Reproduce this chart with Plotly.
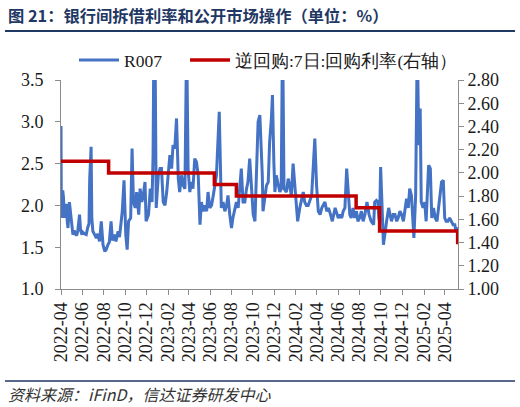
import plotly.graph_objects as go

# R007 (left axis)
r007_dates = [
    "2022-04-01", "2022-04-02", "2022-04-06", "2022-04-08", "2022-04-11", "2022-04-14", "2022-04-16",
    "2022-04-19", "2022-04-21", "2022-04-25", "2022-04-28", "2022-05-01", "2022-05-05", "2022-05-09",
    "2022-05-12", "2022-05-16", "2022-05-19", "2022-05-24", "2022-05-27", "2022-05-31", "2022-06-02",
    "2022-06-07", "2022-06-12", "2022-06-16", "2022-06-20", "2022-06-22", "2022-06-26", "2022-06-28",
    "2022-07-01", "2022-07-06", "2022-07-11", "2022-07-15", "2022-07-20", "2022-07-25", "2022-07-28",
    "2022-07-30", "2022-08-04", "2022-08-08", "2022-08-13", "2022-08-17", "2022-08-22", "2022-08-26",
    "2022-09-01", "2022-09-05", "2022-09-11", "2022-09-15", "2022-09-20", "2022-09-23", "2022-09-28",
    "2022-10-03", "2022-10-07", "2022-10-11", "2022-10-17", "2022-10-21", "2022-10-25", "2022-10-30",
    "2022-11-03", "2022-11-09", "2022-11-13", "2022-11-18", "2022-11-22", "2022-11-27", "2022-11-30",
    "2022-12-07", "2022-12-12", "2022-12-17", "2022-12-20", "2022-12-22", "2022-12-26", "2022-12-29",
    "2023-01-04", "2023-01-09", "2023-01-13", "2023-01-18", "2023-01-23", "2023-01-28", "2023-02-01",
    "2023-02-06", "2023-02-11", "2023-02-15", "2023-02-20", "2023-02-25", "2023-03-02", "2023-03-06",
    "2023-03-11", "2023-03-16", "2023-03-21", "2023-03-25", "2023-03-27", "2023-03-30", "2023-04-04",
    "2023-04-08", "2023-04-13", "2023-04-18", "2023-04-23", "2023-04-28", "2023-05-03", "2023-05-07",
    "2023-05-12", "2023-05-17", "2023-05-22", "2023-05-26", "2023-05-31", "2023-06-05", "2023-06-10",
    "2023-06-19", "2023-06-27", "2023-07-03", "2023-07-08", "2023-07-13", "2023-07-18", "2023-07-22",
    "2023-07-27", "2023-08-01", "2023-08-05", "2023-08-10", "2023-08-15", "2023-08-20", "2023-08-25",
    "2023-08-29", "2023-09-03", "2023-09-08", "2023-09-13", "2023-09-17", "2023-09-22", "2023-09-27",
    "2023-10-02", "2023-10-07", "2023-10-11", "2023-10-16", "2023-10-21", "2023-10-24", "2023-10-28",
    "2023-10-30", "2023-11-04", "2023-11-09", "2023-11-14", "2023-11-18", "2023-11-23", "2023-11-26",
    "2023-11-30", "2023-12-03", "2023-12-07", "2023-12-12", "2023-12-17", "2023-12-21", "2023-12-24",
    "2023-12-26", "2023-12-29", "2024-01-05", "2024-01-10", "2024-01-14", "2024-01-19", "2024-01-24",
    "2024-01-29", "2024-02-06", "2024-02-12", "2024-02-17", "2024-02-22", "2024-02-26", "2024-03-02",
    "2024-03-07", "2024-03-17", "2024-03-26", "2024-03-31", "2024-04-05", "2024-04-10", "2024-04-15",
    "2024-04-24", "2024-04-29", "2024-05-04", "2024-05-10", "2024-05-15", "2024-05-23", "2024-06-01",
    "2024-06-06", "2024-06-11", "2024-06-15", "2024-06-20", "2024-06-25", "2024-06-30", "2024-07-04",
    "2024-07-08", "2024-07-13", "2024-07-18", "2024-07-23", "2024-07-27", "2024-08-01", "2024-08-06",
    "2024-08-11", "2024-08-16", "2024-08-22", "2024-08-28", "2024-09-03", "2024-09-10", "2024-09-13",
    "2024-09-18", "2024-09-22", "2024-09-25", "2024-09-27", "2024-09-30", "2024-10-08", "2024-10-17",
    "2024-10-23", "2024-10-31", "2024-11-05", "2024-11-10", "2024-11-15", "2024-11-19", "2024-11-24",
    "2024-11-29", "2024-12-04", "2024-12-08", "2024-12-13", "2024-12-18", "2024-12-22", "2024-12-27",
    "2024-12-31", "2025-01-03", "2025-01-08", "2025-01-12", "2025-01-14", "2025-01-17", "2025-01-21",
    "2025-01-24", "2025-01-29", "2025-02-03", "2025-02-07", "2025-02-12", "2025-02-14", "2025-02-19",
    "2025-02-23", "2025-02-28", "2025-03-05", "2025-03-10", "2025-03-18", "2025-03-23", "2025-03-28",
    "2025-04-01", "2025-04-05", "2025-04-10", "2025-04-15", "2025-04-20", "2025-04-25", "2025-04-30",
    "2025-05-03", "2025-05-07",
]
r007_values = [
    2.95, 1.85, 2.18, 2.10, 1.85, 1.98, 2.02,
    1.80, 1.73, 2.04, 1.90, 1.86, 1.65, 1.70,
    1.66, 1.64, 1.70, 1.89, 1.70, 1.65, 1.68,
    1.66, 1.65, 1.73, 1.78, 2.32, 2.70, 1.85,
    1.69, 1.65, 1.61, 1.66, 1.57, 1.81, 1.56,
    1.53, 1.45, 1.47, 1.53, 1.56, 1.81, 1.58,
    1.65, 1.57, 1.69, 1.62, 1.81, 1.93, 2.30,
    1.65, 1.47, 1.81, 1.85, 2.68, 2.04, 1.97,
    2.16, 1.89, 2.20, 2.04, 2.12, 2.28, 1.81,
    1.89, 2.20, 2.04, 2.60, 3.80, 3.70, 1.97,
    2.36, 2.44, 2.44, 2.04, 2.00, 2.16, 2.36,
    2.60, 2.44, 2.72, 2.68, 3.04, 2.32, 2.16,
    2.36, 2.24, 2.20, 3.70, 3.60, 2.44, 2.16,
    2.28, 2.20, 2.56, 2.52, 2.36, 1.77, 2.04,
    1.93, 2.00, 1.93, 2.16, 1.97, 2.00, 2.12,
    2.36, 3.12, 1.97, 2.04, 1.93, 2.00, 2.12,
    1.89, 1.73, 1.85, 1.97, 2.04, 1.97, 2.20,
    2.44, 2.04, 2.04, 2.20, 2.28, 2.56, 2.24,
    1.89, 1.81, 2.36, 3.00, 3.08, 2.80, 2.36,
    1.93, 2.08, 2.24, 2.28, 2.76, 3.04, 3.32,
    2.52, 2.16, 2.36, 2.24, 2.16, 2.20, 3.70,
    3.60, 2.20, 2.16, 2.32, 2.24, 2.12, 2.50,
    2.24, 1.81, 1.97, 2.08, 2.16, 2.04, 2.00,
    2.00, 2.12, 2.80, 2.24, 1.93, 1.89, 1.97,
    2.04, 1.93, 1.97, 1.89, 1.81, 1.97, 1.85,
    1.89, 1.85, 1.93, 1.97, 2.44, 2.04, 1.89,
    1.85, 1.97, 1.85, 1.93, 1.81, 1.85, 1.93,
    1.81, 1.89, 2.04, 1.89, 1.81, 1.77, 2.04,
    2.06, 2.04, 1.85, 1.81, 2.46, 1.53, 1.81,
    1.97, 1.81, 1.89, 1.89, 1.81, 1.85, 1.93,
    1.89, 1.81, 1.93, 2.08, 1.97, 2.20, 2.12,
    1.73, 1.61, 2.12, 3.70, 3.60, 2.72, 3.16,
    2.04, 1.97, 2.04, 1.81, 2.24, 2.48, 2.44,
    1.85, 1.97, 1.85, 1.81, 2.08, 2.28, 2.30,
    1.85, 1.81, 1.81, 1.85, 1.81, 1.77, 1.77,
    1.69, 1.74,
]

# 7-day reverse repo rate (right axis), step changes
repo_dates = ["2022-04-01", "2022-08-15", "2023-06-13", "2023-08-15",
              "2024-07-22", "2024-09-27", "2025-05-08", "2025-05-09"]
repo_values = [2.10, 2.00, 1.90, 1.80, 1.70, 1.50, 1.40, 1.40]

# y tick values
left_ticks = [1.0, 1.5, 2.0, 2.5, 3.0, 3.5]
right_ticks = [1.0, 1.2, 1.4, 1.6, 1.8, 2.0, 2.2, 2.4, 2.6, 2.8]

serif = "Liberation Serif"
navy = "#1f3864"
axis_grey = "#8c8c8c"

fig = go.Figure()
fig.add_trace(go.Scatter(
    x=r007_dates, y=r007_values, name="R007", mode="lines",
    line=dict(color="#4472c4", width=3), legend="legend",
))
fig.add_trace(go.Scatter(
    x=repo_dates, y=repo_values, name="逆回购:7日:回购利率(右轴）", mode="lines",
    line=dict(color="#c00000", width=3.5, shape="hv"), yaxis="y2", legend="legend2",
))

# pixel helpers for items placed outside the plot area
L, R, T, B = 61, 458, 80, 289


def px(x):
    return (x - L) / (R - L)


def py(y):
    return (B - y) / (B - T)


fig.update_layout(
    width=520, height=407,
    margin=dict(l=L, r=520 - R, t=T, b=407 - B),
    paper_bgcolor="white", plot_bgcolor="white",
    font=dict(family=serif, size=16, color="#1a1a1a"),
    showlegend=True,
    legend=dict(orientation="h", x=px(74), y=py(60), xanchor="left", yanchor="middle",
                font=dict(family=serif, size=17.5), itemwidth=40,
                bgcolor="rgba(0,0,0,0)"),
    legend2=dict(orientation="h", x=px(185), y=py(60), xanchor="left", yanchor="middle",
                 font=dict(family=serif, size=17.5), itemwidth=40,
                 bgcolor="rgba(0,0,0,0)"),
    xaxis=dict(
        type="date", range=["2022-04-01", "2025-05-09"], automargin=False,
        tick0="2022-04-01", dtick="M2", tickformat="%Y-%m", tickangle=-90,
        ticks="outside", ticklen=5, tickcolor=axis_grey,
        showline=True, linecolor=axis_grey, linewidth=1, showgrid=False, zeroline=False,
        tickfont=dict(family=serif, size=18),
    ),
    yaxis=dict(
        range=[1.0, 3.5], tickvals=left_ticks, tickformat=".1f", automargin=False,
        ticks="outside", ticklen=5, tickcolor=axis_grey, ticklabelstandoff=8,
        showline=True, linecolor=axis_grey, linewidth=1, showgrid=False, zeroline=False,
        tickfont=dict(family=serif, size=18),
    ),
    yaxis2=dict(
        range=[1.0, 2.8], tickvals=right_ticks, tickformat=".2f", automargin=False,
        overlaying="y", side="right",
        ticks="outside", ticklen=5, tickcolor=axis_grey,
        showline=True, linecolor=axis_grey, linewidth=1, showgrid=False, zeroline=False,
        tickfont=dict(family=serif, size=18),
    ),
    shapes=[
        dict(type="line", xref="paper", yref="paper", x0=px(5), x1=px(515), y0=py(31), y1=py(31),
             line=dict(color=navy, width=2)),
        dict(type="line", xref="paper", yref="paper", x0=px(5), x1=px(515), y0=py(381), y1=py(381),
             line=dict(color=navy, width=1.5)),
    ],
    annotations=[
        dict(text="<b>图 21：银行间拆借利率和公开市场操作（单位：%）</b>", xref="paper", yref="paper",
             x=px(6), y=py(15), xanchor="left", yanchor="middle", showarrow=False,
             font=dict(family="Noto Sans CJK SC", size=16.3, color=navy)),
        dict(text="<i>资料来源：iFinD，信达证券研发中心</i>", xref="paper", yref="paper",
             x=px(6), y=py(394), xanchor="left", yanchor="middle", showarrow=False,
             font=dict(family="Noto Sans CJK SC", size=16, color="#333333")),
    ],
)

# the page's default body margin would shift the figure by 8px
fig.write_html("out.html", config={"displayModeBar": False},
               post_script="document.body.style.margin='0';")
